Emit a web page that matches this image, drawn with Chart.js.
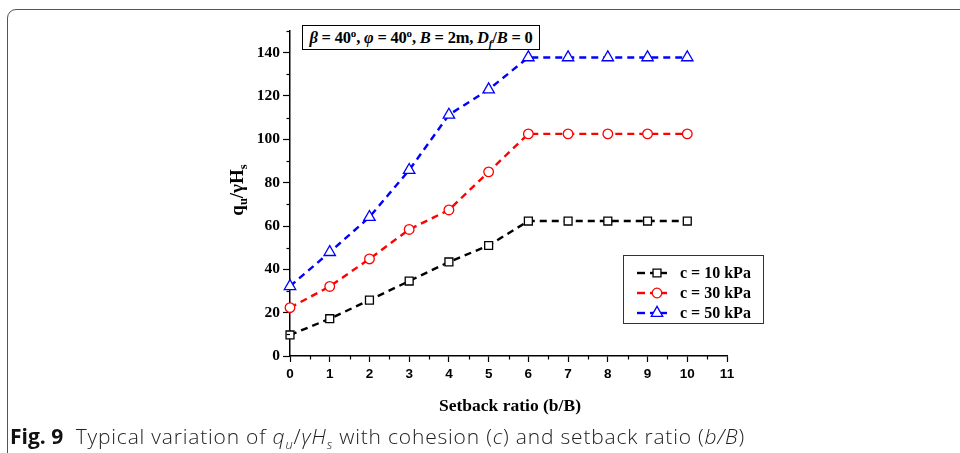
<!DOCTYPE html>
<html>
<head>
<meta charset="utf-8">
<script src="https://cdn.jsdelivr.net/npm/chart.js@4"></script>
<style>
  html, body { margin:0; padding:0; background:#fff; }
  #wrap { position:relative; width:960px; height:453px; overflow:hidden; background:#fff; }
  #frame { position:absolute; left:7px; top:9px; width:1000px; height:520px; border:1.5px solid #555; border-radius:9px; box-sizing:border-box; }
  #cv { position:absolute; left:0; top:0; }
  .tbox { position:absolute; left:302px; top:25px; width:238px; height:25px; border:1px solid #000; box-sizing:border-box;
          font:bold 16.5px "Liberation Serif", serif; line-height:23px; text-align:center; white-space:nowrap; color:#000; background:#fff; letter-spacing:-0.2px; }
  .tbox sup { font-size:11px; position:relative; top:-6px; vertical-align:baseline; }
  .tbox sub { font-size:11px; position:relative; top:4px; vertical-align:baseline; }
  .xt { position:absolute; left:408px; width:204px; top:395px; text-align:center; font:bold 17.5px "Liberation Serif", serif; color:#000; }
  .yt { position:absolute; left:188px; top:178px; width:100px; text-align:center; transform:rotate(-90deg); transform-origin:50% 50%;
        font:bold 19px "Liberation Serif", serif; color:#000; line-height:22px; white-space:nowrap; }
  .yt sub { font-size:12.5px; position:relative; top:4px; vertical-align:baseline; }
  .cap { position:absolute; left:10px; top:422px; font:300 21px "Open Sans", sans-serif; color:#222; white-space:nowrap; letter-spacing:0.8px; }
  .cap b { font-weight:700; color:#111; letter-spacing:0; }
  .cap sub { font-size:13px; position:relative; top:5px; vertical-align:baseline; }
</style>
</head>
<body>
<div id="wrap">
  <div id="frame"></div>
  <canvas id="cv" width="960" height="453"></canvas>
  <div class="tbox"><i>β</i> = 40<sup>o</sup>, <i>φ</i> = 40<sup>o</sup>, <i>B</i> = 2m, <i>D<sub>f</sub></i>/<i>B</i> = 0</div>
  <div class="yt">q<sub>u</sub>/γH<sub>s</sub></div>
  <div class="xt">Setback ratio (b/B)</div>
  <div class="cap"><b>Fig. 9</b>&nbsp; Typical variation of <i>q<sub>u</sub></i>/<i>γH<sub>s</sub></i> with cohesion (<i>c</i>) and setback ratio (<i>b/B</i>)</div>
</div>
<script>
// ---- data ----
const setbackRatio = [0, 1, 2, 3, 4, 5, 6, 7, 8, 9, 10];
const c10 = [9.7, 17.2, 25.8, 34.6, 43.4, 51.0, 62.3, 62.3, 62.3, 62.3, 62.3];
const c30 = [22.3, 32.1, 44.8, 58.4, 67.4, 85.0, 102.5, 102.5, 102.5, 102.5, 102.5];
const c50 = [32.2, 47.9, 64.1, 85.8, 111.3, 123.0, 137.8, 137.8, 137.8, 137.8, 137.8];
const seriesLabels = ['c = 10 kPa', 'c = 30 kPa', 'c = 50 kPa'];
const xTicks = [0, 1, 2, 3, 4, 5, 6, 7, 8, 9, 10, 11];
const yTicks = [0, 20, 40, 60, 80, 100, 120, 140];

const toXY = arr => setbackRatio.map((x, i) => ({ x: x, y: arr[i] }));

function ds(label, arr, color, style, radius) {
  return {
    label: label, data: toXY(arr), borderColor: color, borderWidth: 2.4, borderDash: [7, 5],
    pointStyle: style, pointRadius: radius, pointBorderColor: color, pointBackgroundColor: '#fff',
    pointBorderWidth: 1.3, tension: 0, fill: false, clip: false
  };
}

const minorTicks = {
  id: 'minorTicks',
  afterDraw(chart) {
    const ctx = chart.ctx, xs = chart.scales.x, ys = chart.scales.y;
    const area = chart.chartArea;
    ctx.save();
    ctx.strokeStyle = '#000'; ctx.lineWidth = 1.2;
    for (let v = 10; v <= 150; v += 20) {
      const py = Math.round(ys.getPixelForValue(v)) + 0.5;
      ctx.beginPath(); ctx.moveTo(area.left - 3.5, py); ctx.lineTo(area.left, py); ctx.stroke();
    }
    for (let v = 0.5; v <= 11; v += 1) {
      const px = Math.round(xs.getPixelForValue(v)) + 0.5;
      ctx.beginPath(); ctx.moveTo(px, area.bottom); ctx.lineTo(px, area.bottom + 3.5); ctx.stroke();
    }
    ctx.restore();
  }
};

const boxLegend = {
  id: 'boxLegend',
  afterDraw(chart) {
    const ctx = chart.ctx;
    const L = 623, T = 255, W = 140, H = 68;
    ctx.save();
    ctx.strokeStyle = '#333'; ctx.lineWidth = 1;
    ctx.strokeRect(L + 0.5, T + 0.5, W, H);
    chart.data.datasets.forEach((d, i) => {
      const cy = T + 18 + i * 20;
      ctx.strokeStyle = d.borderColor; ctx.lineWidth = d.borderWidth;
      ctx.beginPath(); ctx.moveTo(637, cy); ctx.lineTo(645, cy); ctx.stroke();
      ctx.beginPath(); ctx.moveTo(650, cy); ctx.lineTo(667, cy); ctx.stroke();
      ctx.fillStyle = '#fff'; ctx.strokeStyle = d.borderColor; ctx.lineWidth = d.pointBorderWidth;
      Chart.helpers.drawPoint(ctx, { pointStyle: d.pointStyle, radius: d.pointRadius, borderWidth: d.pointBorderWidth, rotation: 0 }, 657, cy);
      ctx.fillStyle = '#000'; ctx.font = 'bold 16px "Liberation Serif", serif';
      ctx.textBaseline = 'middle'; ctx.textAlign = 'left';
      ctx.fillText(d.label, 680, cy + 1);
    });
    ctx.restore();
  }
};

new Chart(document.getElementById('cv'), {
  type: 'line',
  data: {
    datasets: [
      ds(seriesLabels[0], c10, '#000000', 'rect', 5.6),
      ds(seriesLabels[1], c30, '#ff0000', 'circle', 4.8),
      ds(seriesLabels[2], c50, '#0000ff', 'triangle', 6.6)
    ]
  },
  options: {
    responsive: false, animation: false, devicePixelRatio: 1,
    layout: { padding: { left: 0, top: 31, right: 233, bottom: 0 }, autoPadding: false },
    plugins: { legend: { display: false }, tooltip: { enabled: false }, title: { display: false } },
    scales: {
      x: {
        type: 'linear', min: 0, max: 11,
        afterFit: s => { s.height = 97; },
        afterBuildTicks: s => { s.ticks = xTicks.map(v => ({ value: v })); },
        ticks: { color: '#000', font: { family: '"Liberation Sans", sans-serif', weight: 'bold', size: 13.5 }, padding: 4, maxRotation: 0, autoSkip: false },
        grid: { drawOnChartArea: false, drawTicks: true, tickLength: 6, tickColor: '#000', tickWidth: 1.2 },
        border: { display: true, color: '#000', width: 1.5 }
      },
      y: {
        type: 'linear', min: 0, max: 150,
        afterFit: s => { s.width = 290; },
        afterBuildTicks: s => { s.ticks = yTicks.map(v => ({ value: v })); },
        ticks: { color: '#000', font: { family: '"Liberation Serif", serif', weight: 'bold', size: 15.5 }, padding: 3, autoSkip: false },
        grid: { drawOnChartArea: false, drawTicks: true, tickLength: 7, tickColor: '#000', tickWidth: 1.2 },
        border: { display: true, color: '#000', width: 1.5 }
      }
    }
  },
  plugins: [minorTicks, boxLegend]
});
</script>
</body>
</html>
